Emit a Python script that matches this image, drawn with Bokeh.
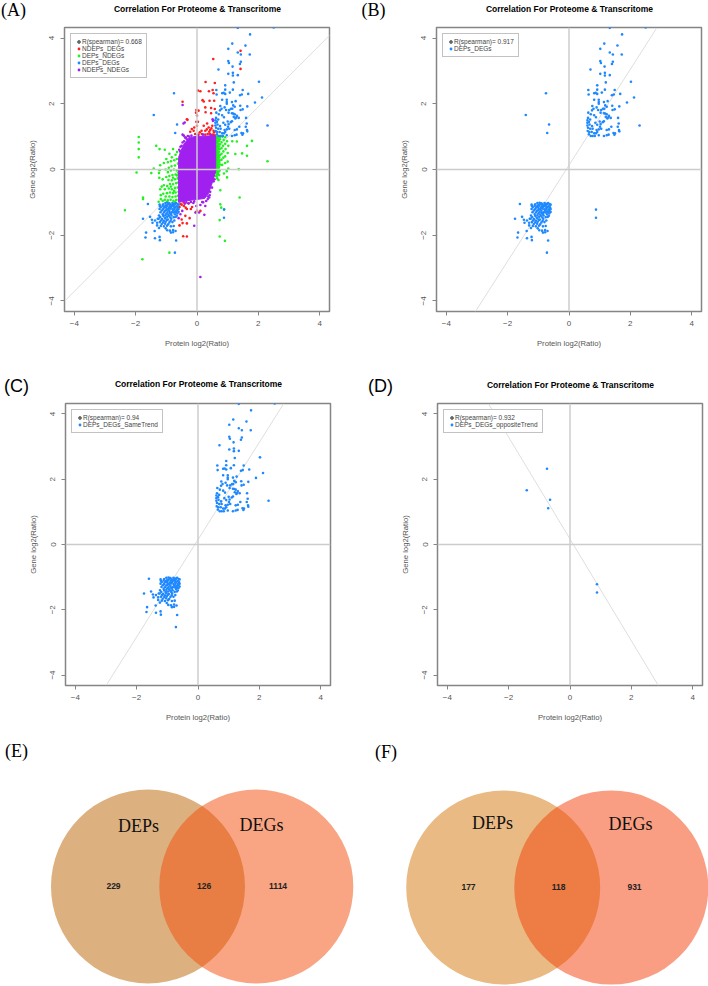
from bokeh.plotting import figure
from bokeh.embed import file_html
from bokeh.resources import INLINE
from bokeh.layouts import column, row
from bokeh.models import Range1d, Span, Legend, LegendItem, Label, FixedTicker

# ---------- data ----------
title_text = "Correlation For Proteome & Transcritome"
x_label = "Protein log2(Ratio)"
y_label = "Gene log2(Ratio)"
ticks = [-4, -2, 0, 2, 4]

same_up = [(1.33,4.31),(2.50,4.32),(1.73,4.11),(1.15,3.83),(1.58,3.77),(1.02,3.67),(1.33,3.56),(1.43,3.50),(1.72,3.50),
 (1.02,3.30),(1.04,3.24),(1.43,3.28),(1.40,3.21),(1.16,3.13),(0.70,3.04),(1.02,2.91),(1.17,2.94),(1.17,2.86),(1.33,2.87),
 (1.20,2.65),(2.02,2.67),(0.92,2.56),(0.63,2.42),(0.92,2.43),(1.17,2.43),(1.49,2.42),(0.64,2.28),(0.82,2.32),(0.87,2.33),
 (0.92,2.30),(1.07,2.34),(1.67,2.30),(1.40,2.26),(1.46,2.28),(2.12,2.19),(1.89,2.04),(0.82,2.12),(0.97,2.12),(0.97,2.05),
 (0.97,2.00),(1.14,2.05),(1.26,2.08),(1.41,1.94),(1.64,1.92),(1.18,1.95),(0.76,1.93),(0.80,1.85),(0.90,1.89),(0.75,1.80),
 (0.95,1.81),(1.05,1.81),(1.11,1.85),(1.23,1.91),(1.42,1.81),(1.49,1.83),(0.63,1.73),(0.71,1.68),(0.82,1.65),(1.03,1.73),
 (1.14,1.71),(1.23,1.68),(1.30,1.63),(1.20,1.60),(1.25,1.55),(1.60,1.57),(0.62,1.57),(0.60,1.50),(0.69,1.52),(0.88,1.59),
 (1.00,1.46),(1.10,1.44),(1.14,1.47),(1.62,1.40),(0.60,1.42),(0.65,1.45),(0.60,1.34),(0.67,1.37),(0.75,1.32),(0.86,1.42),
 (0.92,1.36),(1.03,1.38),(1.01,1.30),(1.59,1.30),(1.38,1.30),(0.62,1.27),(0.69,1.24),(0.77,1.24),(0.90,1.20),(0.97,1.22),
 (1.05,1.24),(1.23,1.20),(1.30,1.22),(1.63,1.20),(1.64,1.16),(0.61,1.17),(0.66,1.14),(0.74,1.14),(0.82,1.10),(0.92,1.14),
 (1.45,1.11),(1.50,1.10),(1.48,1.06),(0.65,1.07),(0.71,1.02),(0.77,1.02),(0.84,1.02),(0.97,1.04),(1.14,1.02),(1.23,1.04),
 (1.29,1.06),(2.30,1.34),(1.28,1.58),(1.18,1.70),(1.36,1.57),(1.15,1.85),(0.88,1.10)]
same_down = [(-1.60,-1.05),(-1.76,-1.50),(-1.66,-1.92),(-1.68,-2.07),(-1.37,-2.09),(-1.22,-2.05),(-1.21,-2.15),(-0.68,-2.16),
 (-0.72,-2.53),(-1.53,-1.44),(-1.47,-1.53),(-1.45,-1.62),(-1.37,-1.55),(-1.30,-1.62),(-1.25,-1.50),(-1.38,-1.87),(-1.30,-1.70),
 (-1.03,-1.02),(-0.96,-1.01),(-0.90,-1.03),(-0.80,-1.02),(-0.75,-1.04),(-0.68,-1.02),
 (-1.22,-1.07),(-1.10,-1.06),(-1.00,-1.08),(-0.93,-1.05),(-0.86,-1.07),(-0.78,-1.08),(-0.72,-1.06),(-0.63,-1.06),(-0.60,-1.07),
 (-1.21,-1.11),(-1.12,-1.10),(-1.04,-1.12),(-0.97,-1.10),(-0.89,-1.12),(-0.82,-1.11),(-0.76,-1.10),(-0.66,-1.12),
 (-1.18,-1.15),(-1.08,-1.16),(-1.01,-1.15),(-0.92,-1.17),(-0.84,-1.15),(-0.74,-1.16),(-0.70,-1.14),(-0.62,-1.15),
 (-1.22,-1.20),(-1.11,-1.21),(-0.99,-1.20),(-0.94,-1.22),(-0.87,-1.19),(-0.80,-1.21),(-0.73,-1.20),(-0.65,-1.21),(-0.60,-1.20),
 (-1.15,-1.25),(-1.05,-1.26),(-1.00,-1.24),(-0.90,-1.26),(-0.78,-1.25),(-0.71,-1.27),(-0.64,-1.25),
 (-1.19,-1.30),(-1.08,-1.31),(-0.96,-1.30),(-0.88,-1.32),(-0.82,-1.30),(-0.76,-1.31),(-0.68,-1.30),(-0.60,-1.29),
 (-1.12,-1.36),(-1.00,-1.34),(-0.94,-1.37),(-0.85,-1.35),(-0.72,-1.36),(-0.64,-1.34),
 (-1.24,-1.40),(-1.10,-1.41),(-1.03,-1.39),(-0.91,-1.41),(-0.83,-1.40),(-0.66,-1.41),
 (-1.20,-1.45),(-1.05,-1.46),(-0.97,-1.44),(-0.87,-1.46),(-0.76,-1.45),(-0.69,-1.44),
 (-1.28,-1.50),(-1.14,-1.51),(-1.03,-1.49),(-0.95,-1.52),(-0.84,-1.50),
 (-1.17,-1.55),(-1.08,-1.56),(-0.98,-1.54),(-0.86,-1.56),(-0.74,-1.55),
 (-1.21,-1.60),(-1.10,-1.61),(-1.02,-1.59),(-0.90,-1.61),(-0.80,-1.60),
 (-1.15,-1.66),(-1.04,-1.65),(-0.94,-1.67),(-1.18,-1.72),(-1.08,-1.73),(-0.98,-1.71),(-0.85,-1.73),(-0.76,-1.72),
 (-1.24,-1.78),(-1.02,-1.79),(-0.97,-1.85),(-0.88,-1.86),(-0.78,-1.84),(-0.70,-1.87),(-0.85,-1.92),(-0.78,-1.91)]
opposite = [(-0.75,2.32),(-1.41,1.66),(-0.65,1.37),(-0.71,1.11),(0.88,-1.22),(0.88,-1.47)]

red_pts = [(1.42,3.61),(0.53,3.36),(1.42,3.06),(0.28,2.66),(0.58,2.63),(0.03,2.40),(0.11,2.38),(0.39,2.38),(0.51,2.42),(0.54,2.32),
 (-0.47,2.06),(0.18,2.11),(0.22,2.07),(0.41,2.09),(0.56,2.09),(-0.02,1.81),(0.05,1.79),(-0.03,1.73),(0.27,1.89),(0.46,1.87),
 (0.28,1.74),(0.46,1.71),(0.58,1.84),(-0.31,1.51),(-0.33,1.53),(0.00,1.64),(-0.02,1.45),(0.03,1.45),(0.00,1.33),(-0.09,1.28),
 (-0.17,1.23),(-0.22,1.15),(-0.11,1.18),(0.09,1.13),(0.15,1.18),(0.22,1.33),(0.33,1.40),(0.38,1.28),(0.43,1.20),(0.54,1.18),
 (0.50,1.33),(0.27,1.18),(0.16,1.08),(0.27,1.06),(0.35,1.08),(0.43,1.08),(0.52,1.06),(0.56,1.13),(0.32,1.22),(0.47,1.25),
 (0.05,1.06),(-0.06,1.08),(0.40,1.15),(0.58,1.04),(0.46,1.03),
 (-0.57,-1.14),(-0.50,-1.07),(-0.43,-1.00),(-0.43,-1.11),(-0.37,-1.16),(-0.27,-1.03),(-0.33,-1.20),(-0.54,-1.05),(-0.16,-1.14),
 (-0.20,-1.20),(-0.03,-1.30),(0.11,-1.26),(0.00,-1.26),(-0.57,-1.70),(-0.47,-1.63),(-0.33,-1.64),(-0.45,-2.03),(-0.33,-2.04),
 (-0.38,-1.41),(-0.24,-1.48),(-0.50,-1.52)]
green_pts = [(-1.90,0.99),(-1.90,0.82),(-1.90,0.62),(-1.90,0.37),(-1.97,-0.09),(-2.35,-1.24),(-1.76,-0.85),(-1.76,-0.90),(-1.78,-2.73),
 (-0.90,-2.53),(2.30,0.25),(1.39,-0.85),(0.74,-2.04),(0.91,-2.17),(0.74,-1.54),(0.76,-1.06),(0.79,-1.16),(0.89,-1.21),(0.76,-0.63),
 (0.98,-0.24),(1.36,0.01),(1.63,0.42),(1.63,0.72),(1.79,0.87),(1.47,0.49),(1.25,0.47),(1.15,0.86),(1.30,0.85),
 (-1.33,0.72),(-1.22,0.62),(-1.05,0.60),(-0.78,0.62),(-0.82,0.37),(-0.70,0.45),(-0.65,0.53),(-0.90,0.48),(-1.00,0.32),(-1.08,0.20),
 (-1.20,0.13),(-1.41,0.03),(-1.49,-0.11),(-0.95,0.22),(-0.85,0.25),(-0.74,0.28),(-0.66,0.32),(-0.62,0.18),(-0.72,0.12),(-0.83,0.10),
 (-0.92,0.05),(-1.02,0.00),(-1.22,-0.02),(-1.24,-0.11),(-0.95,-0.08),(-0.85,-0.03),(-0.75,0.00),(-0.66,-0.03),(-0.61,-0.10),(-0.70,-0.15),
 (-0.80,-0.17),(-0.90,-0.20),(-1.00,-0.23),(-1.23,-0.25),(-1.12,-0.30),(-0.93,-0.32),(-0.82,-0.33),(-0.72,-0.30),(-0.63,-0.27),(-0.61,-0.40),
 (-0.68,-0.42),(-0.78,-0.45),(-0.88,-0.44),(-0.97,-0.50),(-1.08,-0.48),(-1.15,-0.52),(-1.20,-0.60),(-1.05,-0.60),(-0.92,-0.58),(-0.82,-0.60),
 (-0.72,-0.56),(-0.63,-0.55),(-0.60,-0.68),(-0.70,-0.70),(-0.78,-0.72),(-0.88,-0.70),(-0.98,-0.72),(-1.10,-0.74),(-1.18,-0.78),(-1.02,-0.82),
 (-0.90,-0.82),(-0.80,-0.84),(-0.70,-0.82),(-0.62,-0.80),(-0.60,-0.92),(-0.68,-0.93),(-0.77,-0.95),(-0.86,-0.92),(-0.95,-0.94),(-1.05,-0.92),
 (-1.12,-0.95),(-1.25,-0.98),(-1.18,-0.90),(-0.98,-0.98),(-0.72,-0.99),(-0.75,-0.65),(-0.85,-0.52),(-0.65,-0.18),(-0.78,-0.25),
 (0.61,1.00),(0.67,1.01),(0.74,0.99),(0.83,1.00),(0.92,0.98),(0.62,0.94),(0.68,0.95),(0.75,0.92),(0.87,0.90),(0.98,0.86),(0.61,0.88),(0.66,0.87),(0.72,0.86),
 (0.80,0.83),(0.92,0.78),(0.62,0.81),(0.68,0.80),(0.75,0.77),(0.85,0.72),(1.02,0.72),(0.61,0.74),(0.66,0.73),(0.72,0.70),(0.80,0.65),(0.93,0.62),
 (0.62,0.67),(0.68,0.65),(0.74,0.62),(0.86,0.55),(1.00,0.50),(0.61,0.60),(0.66,0.58),(0.72,0.54),(0.80,0.48),(0.92,0.40),(0.62,0.53),(0.68,0.50),
 (0.75,0.44),(0.86,0.36),(1.00,0.24),(0.61,0.46),(0.66,0.43),(0.72,0.37),(0.80,0.30),(0.62,0.40),(0.68,0.35),(0.75,0.28),(0.92,0.20),(0.61,0.33),
 (0.66,0.28),(0.72,0.22),(0.82,0.14),(0.62,0.26),(0.68,0.20),(0.75,0.15),(0.61,0.19),(0.66,0.13),(0.72,0.08),(1.02,0.03),(0.62,0.12),(0.68,0.06),
 (0.61,0.05),(0.66,0.00),(0.74,-0.03),(0.62,-0.03),(0.68,-0.08),(0.61,-0.10),(0.65,-0.15),(0.72,-0.17),(0.62,-0.20),(0.66,-0.27),(0.70,-0.32),(0.88,-0.12),(0.97,-0.05),
 (0.64,0.97),(0.70,0.90),(0.64,0.84),(0.70,0.76),(0.64,0.70),(0.70,0.61),(0.64,0.55),(0.70,0.47),(0.64,0.48),(0.70,0.40),(0.64,0.37),(0.70,0.31),(0.64,0.30),
 (0.70,0.25),(0.64,0.23),(0.70,0.16),(0.64,0.16),(0.70,0.10),(0.64,0.08),(0.70,0.02),(0.64,0.02),(0.71,-0.06),(0.64,-0.06),(0.68,-0.13),(0.64,-0.21)]
purple_pts = [(0.11,-3.27),(-0.47,1.96),(-0.44,1.40),(-0.40,1.43),(0.52,1.48),(0.51,1.53),(-0.43,1.03),(-0.47,1.06),(-0.36,0.97),(-0.47,0.82),
 (-0.54,0.69),(-0.58,0.60),(-0.20,-0.99),(-0.09,-0.97),(-0.02,-1.11),(0.11,-1.08),(0.24,-1.38),(0.07,-1.31),(-0.05,-1.31),(0.17,-0.99),
 (0.27,-1.11),(0.35,-0.90),(0.41,-0.78),(0.49,-0.55),(0.54,-0.36),(-0.60,-1.48),(-0.54,-1.36),(-0.48,-1.26),(-0.09,-1.71),(-0.12,-1.02),
 (-0.28,-1.03),(0.20,-1.00),(0.30,-0.96),(0.43,-0.68),(0.57,-0.30),(-0.39,0.97),(-0.30,1.02),(-0.25,1.00),(-0.50,0.72),(-0.42,0.86),
 (-0.55,0.55),(-0.33,0.92),(-0.18,1.03),(0.02,1.05),(0.20,1.06),(0.45,1.05),(-0.35,-1.00),(0.40,-0.85),(-0.40,-1.04),(0.36,-0.82)]
# outline of the purple mass, too dense to read dot by dot
purple_core_x = [-0.60,-0.52,-0.43,-0.27,-0.10,0.12,0.36,0.61,0.61,0.61,0.55,0.47,0.38,0.25,0.10,-0.10,-0.30,-0.60]
purple_core_y = [0.37,0.58,0.77,0.95,1.00,1.01,1.02,1.03,0.50,-0.05,-0.25,-0.48,-0.72,-0.88,-0.90,-0.92,-0.95,-1.00]

fit_a = ([-4.29, 4.33], [-3.98, 4.09])
fit_b = ([-3.05, 2.85], [-4.32, 4.29])
fit_c = ([-2.99, 2.79], [-4.31, 4.31])
fit_d = ([-2.65, 2.88], [4.30, -4.32])

venn_e = {"left": 229, "both": 126, "right": 1114}
venn_f = {"left": 177, "both": 118, "right": 931}

RED, GREEN, BLUE, PURPLE, DARK = "#FF1F1F", "#22F022", "#1E88FF", "#A020F0", "#5F6B6B"
SANS = "Liberation Sans"
SERIF = "Liberation Serif"
LIM = 4.32
DOT = 2.6


def split(points):
    return [q[0] for q in points], [q[1] for q in points]


def note(p, x, y, text, size, font=SANS, color="#000000", style="normal"):
    p.add_layout(Label(x=x, y=y, text=text, text_font=font, text_font_size=size, text_color=color,
                       text_font_style=style, text_align="center", text_baseline="middle"))


def canvas(w, h):
    # a plain strip whose data units are its pixels
    p = figure(width=w, height=h, output_backend="svg", toolbar_location=None,
               x_range=Range1d(0, w), y_range=Range1d(h, 0), min_border=0)
    p.axis.visible = False
    p.grid.visible = False
    p.outline_line_color = None
    return p


def strip(h, letter, letter_pos, letter_font, title_x, title_y):
    p = canvas(354, h)
    note(p, title_x, title_y, title_text, "8.5px", style="bold")
    note(p, letter_pos[0], letter_pos[1], letter, "18px", font=letter_font)
    return p


def panel(w, h, box, fit, series, r_text):
    left, right, top, bottom = box
    p = figure(width=w, height=h, output_backend="svg", toolbar_location=None,
               x_range=Range1d(-LIM, LIM), y_range=Range1d(-LIM, LIM),
               min_border_left=left, min_border_right=w - right, min_border_top=top, min_border_bottom=h - bottom)
    p.grid.visible = False
    p.outline_line_color = "#858585"
    p.outline_line_width = 1.5
    for ax, lab in ((p.xaxis[0], x_label), (p.yaxis[0], y_label)):
        ax.ticker = FixedTicker(ticks=ticks)
        ax.axis_label = lab
        ax.axis_label_text_font = SANS
        ax.axis_label_text_font_size = "7.7px"
        ax.axis_label_text_font_style = "normal"
        ax.axis_label_text_color = "#555555"
        ax.major_label_text_font = SANS
        ax.major_label_text_font_size = "8px"
        ax.major_label_text_color = "#555555"
        ax.major_tick_line_color = "#858585"
        ax.major_tick_in = 0
        ax.major_tick_out = 4
        ax.minor_tick_line_color = None
        ax.axis_line_color = None
    p.xaxis[0].major_label_standoff = 5
    p.xaxis[0].axis_label_standoff = 10
    p.yaxis[0].major_label_standoff = 6
    p.yaxis[0].axis_label_standoff = 10
    p.yaxis[0].major_label_orientation = "vertical"

    p.add_layout(Span(location=0, dimension="width", line_color="#CCCCCC", line_width=1.5))
    p.add_layout(Span(location=0, dimension="height", line_color="#CCCCCC", line_width=1.5))
    p.line(fit[0], fit[1], line_color="#DEDEDE", line_width=1)

    items = []
    d = p.scatter([float("nan")], [float("nan")], marker="circle", size=DOT, color=DARK)
    items.append(LegendItem(label=r_text, renderers=[d]))
    for name, pts, col in series:
        x, y = split(pts)
        r = p.scatter(x, y, marker="circle", size=DOT, fill_color=col, line_color=None)
        items.append(LegendItem(label=name, renderers=[r]))
    p.add_layout(Legend(items=items, location="top_left", margin=6, padding=4, spacing=0, glyph_width=7, glyph_height=7,
                        label_standoff=0, label_height=7, label_width=10, label_text_font=SANS,
                        label_text_font_size="6.5px", label_text_color="#444444", border_line_color="#858585",
                        border_line_width=1.5, background_fill_alpha=1))
    return p


def venn(w, h, cx_l, cx_r, cy, r, fill_l, fill_r, counts, xs, word_pos, letter, letter_pos, tx):
    p = canvas(w, h)
    p.ellipse([cx_l], [cy], width=2 * r, height=2 * r, fill_color=fill_l, line_color=None)
    p.ellipse([cx_r], [cy], width=2 * r, height=2 * r, fill_color=fill_r, fill_alpha=0.5, line_color=None)
    for k, x in zip(("left", "both", "right"), xs):
        note(p, x, tx, str(counts[k]), "8.5px", color="#222222", style="bold")
    note(p, word_pos[0][0], word_pos[0][1], "DEPs", "18px", font=SERIF, color="#111111")
    note(p, word_pos[1][0], word_pos[1][1], "DEGs", "18px", font=SERIF, color="#111111")
    note(p, letter_pos[0], letter_pos[1], letter, "18px", font=SERIF)
    return p


a = panel(354, 345, (64, 329, 2, 286), fit_a,
          [("NDEPs_DEGs", red_pts, RED), ("DEPs_NDEGs", green_pts, GREEN), ("DEPs_DEGs", same_up + same_down + opposite, BLUE)],
          "R(spearman)= 0.668")
a.patch(purple_core_x, purple_core_y, fill_color=PURPLE, line_color=PURPLE, line_width=1)
px, py = split(purple_pts)
pr = a.scatter(px, py, marker="circle", size=DOT, fill_color=PURPLE, line_color=None)
a.legend[0].items.append(LegendItem(label="NDEPs_NDEGs", renderers=[pr]))

b = panel(354, 345, (82, 347, 2, 286), fit_b, [("DEPs_DEGs", same_up + same_down + opposite, BLUE)], "R(spearman)= 0.917")
c = panel(354, 330, (65, 330, 2, 285), fit_c, [("DEPs_DEGs_SameTrend", same_up + same_down, BLUE)], "R(spearman)= 0.94")
d = panel(354, 330, (83, 348, 3, 287), fit_d, [("DEPs_DEGs_oppositeTrend", opposite, BLUE)], "R(spearman)= 0.932")
e = venn(354, 256, 147.5, 255.8, 156, 97, "#DDB07F", "#F34B07", venn_e, (113, 203.6, 277.6),
         ((138, 95.7), (261, 94)), "(E)", (16, 20), 155.7)
f = venn(354, 256, 148.7, 256.8, 157, 97, "#E9BA84", "#F33D05", venn_f, (114, 204, 280),
         ((138, 92), (276, 93)), "(F)", (31.5, 21), 156.7)

head_ab = row(strip(25, "(A)", (13, 9), SERIF, 197, 8), strip(25, "(B)", (19, 9), SERIF, 215, 8))
head_cd = row(strip(30, "(C)", (16, 15), SANS, 198, 13), strip(30, "(D)", (26, 15), SANS, 216, 14))
layout = column(head_ab, row(a, b), head_cd, row(c, d), row(e, f))
open("out.html", "w").write(file_html(layout, INLINE))
